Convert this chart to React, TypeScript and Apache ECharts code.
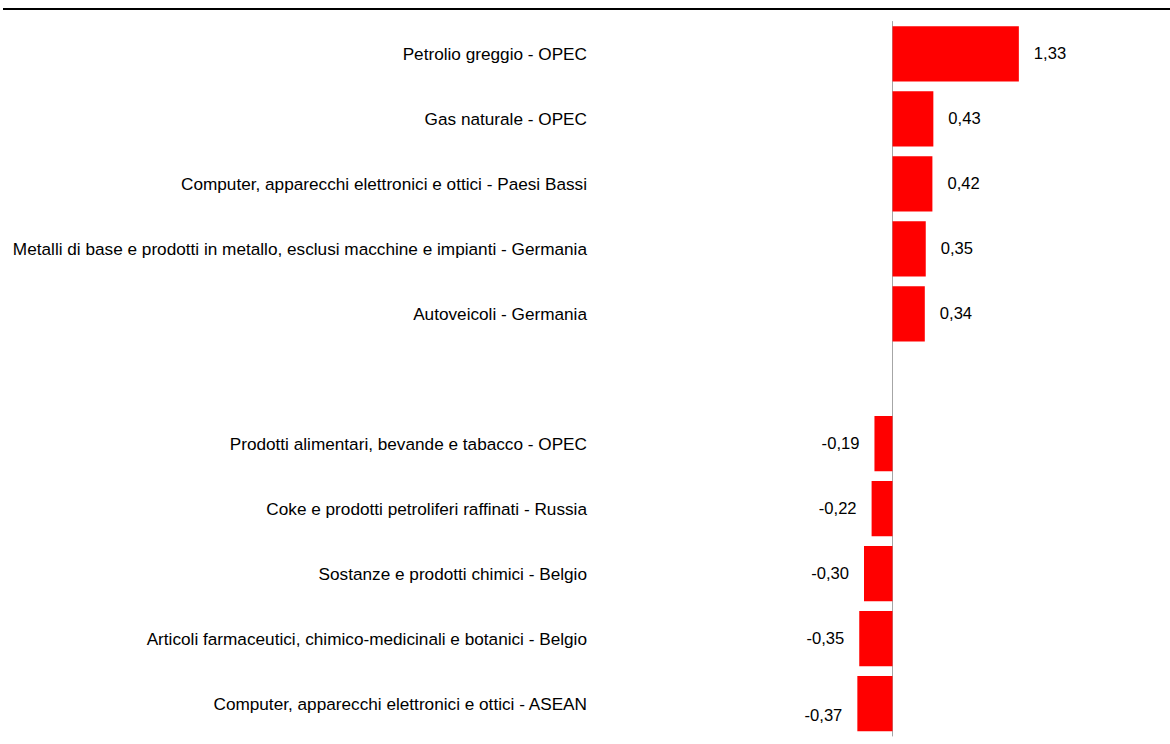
import React, { useEffect, useRef } from "react";
import * as echarts from "echarts";

const categories = [
  "Petrolio greggio - OPEC",
  "Gas naturale - OPEC",
  "Computer, apparecchi elettronici e ottici - Paesi Bassi",
  "Metalli di base e prodotti in metallo, esclusi macchine e impianti - Germania",
  "Autoveicoli - Germania",
  "",
  "Prodotti alimentari, bevande e tabacco - OPEC",
  "Coke e prodotti petroliferi raffinati - Russia",
  "Sostanze e prodotti chimici - Belgio",
  "Articoli farmaceutici, chimico-medicinali e botanici - Belgio",
  "Computer, apparecchi elettronici e ottici - ASEAN",
];

const values: (number | null)[] = [1.33, 0.43, 0.42, 0.35, 0.34, null, -0.19, -0.22, -0.3, -0.35, -0.37];

const FONT = "'Liberation Sans', Arial, sans-serif";

export default function App() {
  const ref = useRef<HTMLDivElement>(null);
  useEffect(() => {
    document.body.style.margin = "0";
    const chart = echarts.init(ref.current!, null, { renderer: "svg" });
    const data = values.map((v, i) => {
      if (v === null) return "-";
      const neg = v < 0;
      return {
        value: v,
        label: {
          show: true,
          position: neg ? "left" : "right",
          distance: 15,
          offset: i === values.length - 1 ? [0, 12] : [0, 0],
        },
      };
    });
    chart.setOption({
      animation: false,
      grid: { left: 797.5, right: 87.5, top: 21.5, bottom: 8, containLabel: false, outerBoundsMode: "none" },
      xAxis: {
        type: "value",
        min: -1,
        max: 2,
        show: false,
        splitLine: { show: false },
      },
      yAxis: {
        type: "category",
        data: categories,
        inverse: true,
        axisLine: { show: true, onZero: true, lineStyle: { color: "#a6a6a6", width: 1 } },
        axisTick: { show: false },
        axisLabel: {
          margin: 210.5,
          color: "#000",
          fontSize: 17.2,
          fontFamily: FONT,
          interval: 0,
        },
      },
      series: [
        {
          type: "bar",
          data,
          barCategoryGap: "15%",
          itemStyle: { color: "#ff0000" },
          label: {
            color: "#000",
            fontSize: 16.6,
            fontFamily: FONT,
            formatter: (p: any) => p.value.toFixed(2).replace(".", ","),
          },
        },
      ],
      graphic: [
        {
          type: "line",
          shape: { x1: 3, y1: 9, x2: 1170, y2: 9 },
          style: { stroke: "#000", lineWidth: 2 },
        },
      ],
    });
    return () => chart.dispose();
  }, []);
  return <div ref={ref} style={{ position: "absolute", left: 0, top: 0, width: 1170, height: 744 }} />;
}
